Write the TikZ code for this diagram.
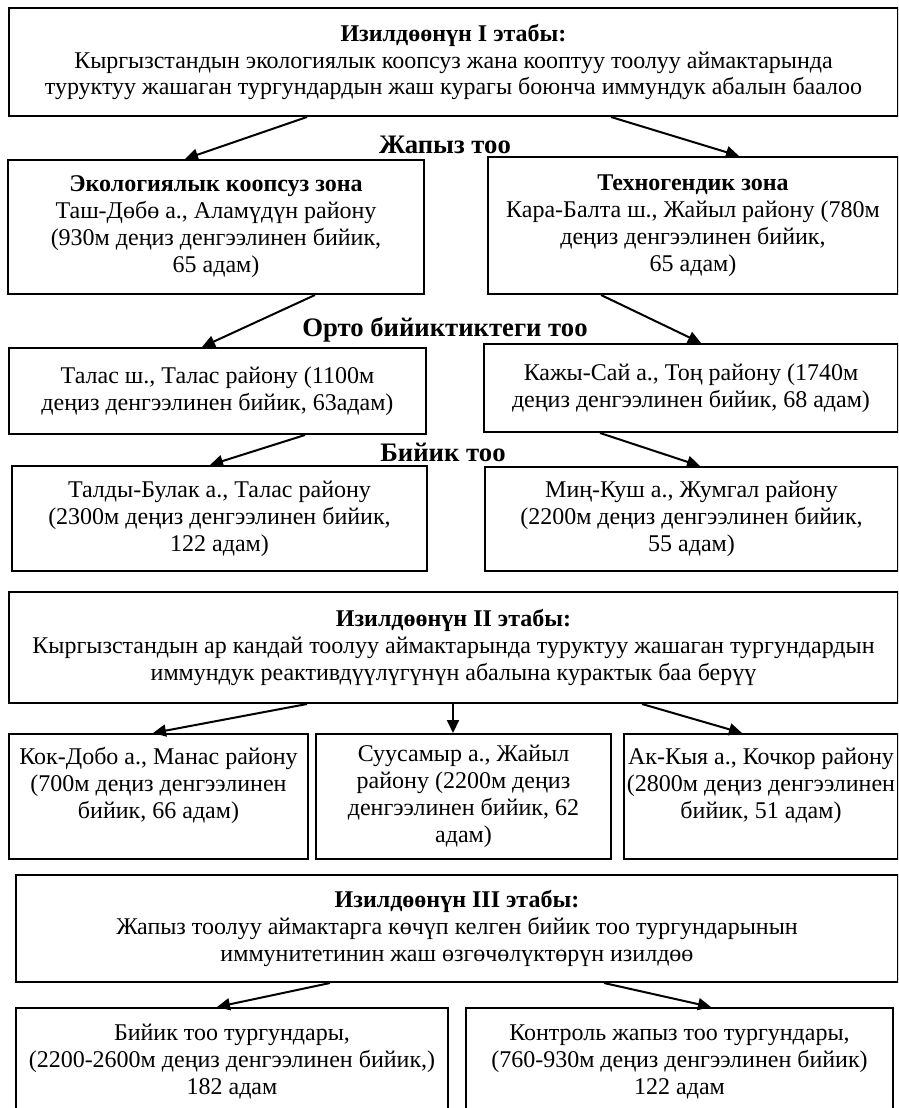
\documentclass[tikz,border=0pt]{standalone}
\usepackage{fontspec}
\setmainfont{Liberation Serif}
\usetikzlibrary{arrows.meta}
\tikzset{
  box/.style={draw, line width=2pt, anchor=north west, align=center, inner sep=0pt,
    font=\fontsize{24}{27}\selectfont},
  lbl/.style={inner sep=0pt, font=\bfseries\fontsize{26.7}{28}\selectfont},
  arr/.style={line width=2pt, -{Triangle[length=13pt,width=12pt]}}
}
\begin{document}
\begin{tikzpicture}[x=1pt,y=-1pt]
\useasboundingbox (0,0) rectangle (898,1108);
\clip (0,0) rectangle (898,1108);
% stage I
\node[box, minimum width=889pt, minimum height=108pt] (bI) at (8,7)
  {\textbf{Изилдөөнүн I этабы:}\\Кыргызстандын экологиялык коопсуз жана кооптуу тоолуу аймактарында\\туруктуу жашаган тургундардын жаш курагы боюнча иммундук абалын баалоо};
\node[lbl] (l1) at (445,145) {Жапыз тоо};
\node[box, minimum width=416pt, minimum height=134pt] (eco) at (7,159)
  {\textbf{Экологиялык коопсуз зона}\\Таш-Дөбө а., Аламүдүн району\\(930м деңиз денгээлинен бийик,\\65 адам)};
\node[box, minimum width=410pt, minimum height=137pt] (tech) at (487,156)
  {\textbf{Техногендик зона}\\Кара-Балта ш., Жайыл району (780м\\деңиз денгээлинен бийик,\\65 адам)};
\node[lbl] (l2) at (445,330) {Орто бийиктиктеги тоо};
\node[box, minimum width=417pt, minimum height=86pt] (talas) at (8,347)
  {Талас ш., Талас району (1100м\\деңиз денгээлинен бийик, 63адам)};
\node[box, minimum width=414pt, minimum height=88pt] (kazhy) at (483,343)
  {Кажы-Сай а., Тоң району (1740м\\деңиз денгээлинен бийик, 68 адам)};
\node[lbl] (l3) at (443,452) {Бийик тоо};
\node[box, minimum width=415pt, minimum height=105pt] (taldy) at (11,465)
  {Талды-Булак а., Талас району\\(2300м деңиз денгээлинен бийик,\\122 адам)};
\node[box, minimum width=413pt, minimum height=104pt] (min) at (484,466)
  {Миң-Куш а., Жумгал району\\(2200м деңиз денгээлинен бийик,\\55 адам)};
% stage II
\node[box, minimum width=889pt, minimum height=111pt] (bII) at (8,591)
  {\textbf{Изилдөөнүн II этабы:}\\Кыргызстандын ар кандай тоолуу аймактарында туруктуу жашаган тургундардын\\иммундук реактивдүүлүгүнүн абалына курактык баа берүү};
\node[box, minimum width=299pt, minimum height=125pt] (kok) at (8,733)
  {Кок-Добо а., Манас району\\(700м деңиз денгээлинен\\бийик, 66 адам)\\\mbox{}};
\node[box, minimum width=295pt, minimum height=125pt] (suus) at (315,733)
  {Суусамыр а., Жайыл\\району (2200м деңиз\\денгээлинен бийик, 62\\адам)};
\node[box, minimum width=274pt, minimum height=125pt] (ak) at (623,733)
  {Ак-Кыя а., Кочкор району\\(2800м деңиз денгээлинен\\бийик, 51 адам)\\\mbox{}};
% stage III
\node[box, minimum width=882pt, minimum height=107pt] (bIII) at (15,874)
  {\textbf{Изилдөөнүн III этабы:}\\Жапыз тоолуу аймактарга көчүп келген бийик тоо тургундарынын\\иммунитетинин жаш өзгөчөлүктөрүн изилдөө};
\node[box, minimum width=432pt, minimum height=108pt] (hi) at (15,1007)
  {Бийик тоо тургундары,\\(2200-2600м деңиз денгээлинен бийик,)\\182 адам};
\node[box, minimum width=427pt, minimum height=108pt] (ctrl) at (465,1007)
  {Контроль жапыз тоо тургундары,\\(760-930м деңиз денгээлинен бийик)\\122 адам};
% arrows
\draw[arr] ([xshift=299pt]bI.south west) -- ([xshift=178pt]eco.north west);
\draw[arr] ([xshift=603pt]bI.south west) -- ([xshift=252pt]tech.north west);
\draw[arr] ([xshift=308pt]eco.south west) -- ([xshift=194pt]talas.north west);
\draw[arr] ([xshift=114pt]tech.south west) -- ([xshift=218pt]kazhy.north west);
\draw[arr] ([xshift=297pt]talas.south west) -- ([xshift=199pt]taldy.north west);
\draw[arr] ([xshift=117pt]kazhy.south west) -- ([xshift=216pt]min.north west);
\draw[arr] ([xshift=299pt]bII.south west) -- ([xshift=145pt]kok.north west);
\draw[arr] ([xshift=445pt]bII.south west) -- ([xshift=138pt]suus.north west);
\draw[arr] ([xshift=634pt]bII.south west) -- ([xshift=119pt]ak.north west);
\draw[arr] ([xshift=315pt]bIII.south west) -- ([xshift=202pt]hi.north west);
\draw[arr] ([xshift=589pt]bIII.south west) -- ([xshift=246pt]ctrl.north west);
\end{tikzpicture}
\end{document}
